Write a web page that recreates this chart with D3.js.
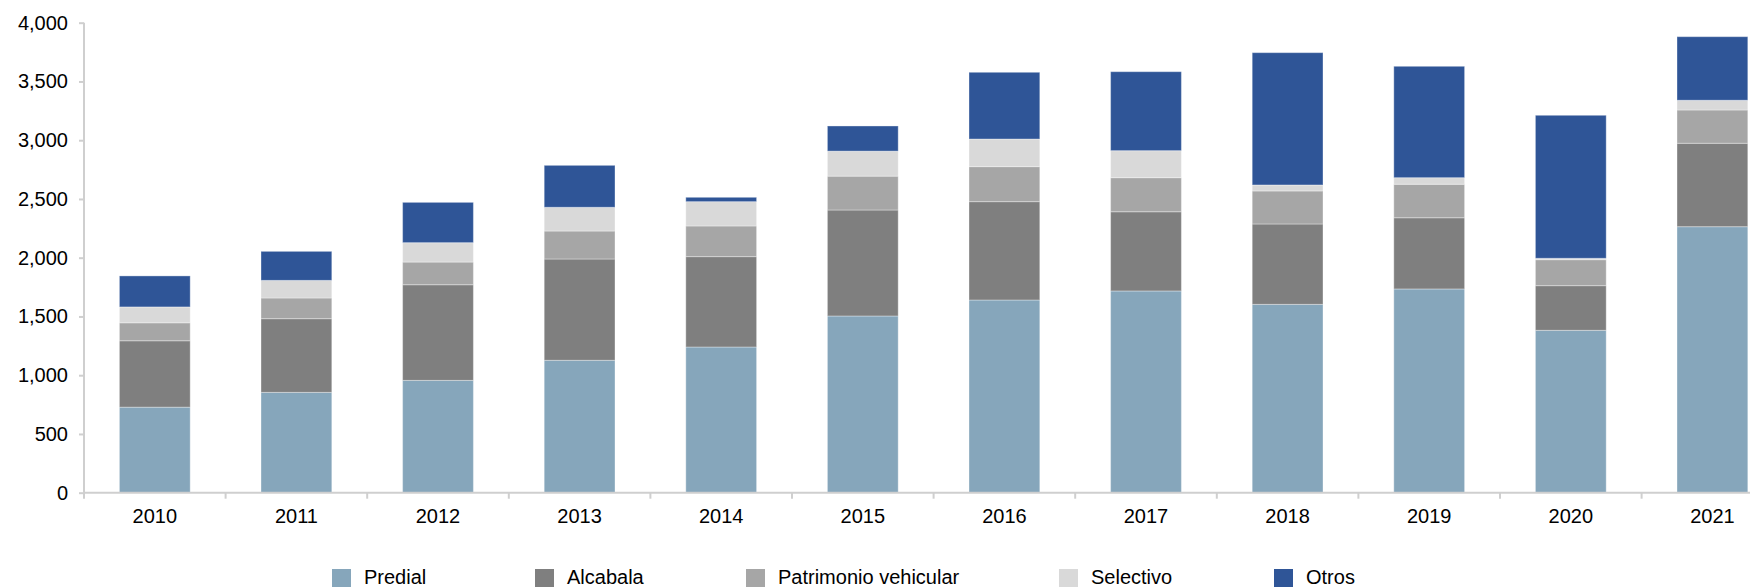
<!DOCTYPE html>
<html>
<head>
<meta charset="utf-8">
<script src="https://cdn.jsdelivr.net/npm/d3@7"></script>
<style>
  body { margin: 0; background: #fff; }
  svg { display: block; font-family: "Liberation Sans", Arial, sans-serif; }
</style>
</head>
<body>
<script>
// data
const years = ["2010", "2011", "2012", "2013", "2014", "2015", "2016", "2017", "2018", "2019", "2020", "2021"];
const predial    = [728, 854, 956, 1127, 1240, 1504, 1640, 1717, 1603, 1734, 1382, 2264];
const alcabala   = [565, 627, 814, 862, 769, 902, 837, 674, 684, 606, 380, 710];
const patrimonio = [153, 176, 193, 238, 261, 288, 298, 290, 281, 285, 221, 283];
const selectivo  = [135, 150, 165, 202, 207, 213, 235, 230, 51, 56, 12, 83];
const otros      = [264, 247, 343, 357, 37, 214, 568, 672, 1126, 948, 1217, 541];
const seriesNames = ["Predial", "Alcabala", "Patrimonio vehicular", "Selectivo", "Otros"];
const seriesColors = ["#86a6bb", "#7f7f7f", "#a6a6a6", "#d9d9d9", "#2f5597"];
const yTicks = [0, 500, 1000, 1500, 2000, 2500, 3000, 3500, 4000];

const width = 1750;
const height = 587;
const left = 84;
const step = 141.6;
const y0 = 492.7, yTop = 22.7;
// legend item positions (layout)
const legendX = [332, 535, 746, 1059, 1274];

// build rows for the stack
const rows = years.map((yr, i) => ({
  year: yr,
  "Predial": predial[i],
  "Alcabala": alcabala[i],
  "Patrimonio vehicular": patrimonio[i],
  "Selectivo": selectivo[i],
  "Otros": otros[i]
}));
const stacked = d3.stack().keys(seriesNames)(rows);

const svg = d3.select("body")
  .append("svg")
  .attr("width", width)
  .attr("height", height);

const xScale = d3.scaleBand()
  .domain(years)
  .range([left, left + step * years.length])
  .paddingInner(0.5)
  .paddingOuter(0.25);

const yScale = d3.scaleLinear()
  .domain([0, 4000])
  .range([y0, yTop]);

const color = d3.scaleOrdinal().domain(seriesNames).range(seriesColors);

// bars
svg.append("g")
  .selectAll("g")
  .data(stacked)
  .enter()
  .append("g")
  .attr("fill", d => color(d.key))
  .selectAll("rect")
  .data(d => d)
  .enter()
  .append("rect")
  .attr("x", d => xScale(d.data.year))
  .attr("y", d => yScale(d[1]))
  .attr("width", xScale.bandwidth())
  .attr("height", d => yScale(d[0]) - yScale(d[1]))
  .attr("stroke", "#fff")
  .attr("stroke-opacity", 0.35)
  .attr("stroke-width", 1);

// y axis
const yAxis = svg.append("g")
  .attr("transform", `translate(${left},0)`)
  .call(d3.axisLeft(yScale).tickValues(yTicks).tickFormat(d3.format(",")).tickSize(5).tickPadding(11));
yAxis.select(".domain").attr("stroke", "#cfcfcf").attr("stroke-width", 2).attr("d", `M0,${y0}V${yTop}`);
yAxis.selectAll(".tick line").attr("stroke", "#cfcfcf").attr("stroke-width", 2);
yAxis.selectAll(".tick text").style("font-size", "20px").attr("fill", "#000");

// x axis: labels centred on bars, ticks on category boundaries
const xAxis = svg.append("g")
  .attr("transform", `translate(0,${y0})`)
  .call(d3.axisBottom(xScale).tickSize(0).tickPadding(16));
xAxis.select(".domain").remove();
xAxis.selectAll(".tick text").style("font-size", "20px").attr("fill", "#000");

svg.append("line")
  .attr("x1", left).attr("x2", left + step * years.length)
  .attr("y1", y0).attr("y2", y0)
  .attr("stroke", "#cfcfcf").attr("stroke-width", 2);

svg.append("g")
  .selectAll("line")
  .data(d3.range(years.length + 1))
  .enter()
  .append("line")
  .attr("x1", i => left + i * xScale.step())
  .attr("x2", i => left + i * xScale.step())
  .attr("y1", y0)
  .attr("y2", y0 + 6)
  .attr("stroke", "#cfcfcf")
  .attr("stroke-width", 2);

// legend
const legend = svg.append("g")
  .selectAll("g")
  .data(seriesNames)
  .enter()
  .append("g")
  .attr("transform", (d, i) => `translate(${legendX[i]},0)`);

legend.append("rect")
  .attr("y", 569)
  .attr("width", 19)
  .attr("height", 19)
  .attr("fill", d => color(d));

legend.append("text")
  .attr("x", 32)
  .attr("y", 584)
  .style("font-size", "20px")
  .attr("fill", "#000")
  .text(d => d);
</script>
</body>
</html>
